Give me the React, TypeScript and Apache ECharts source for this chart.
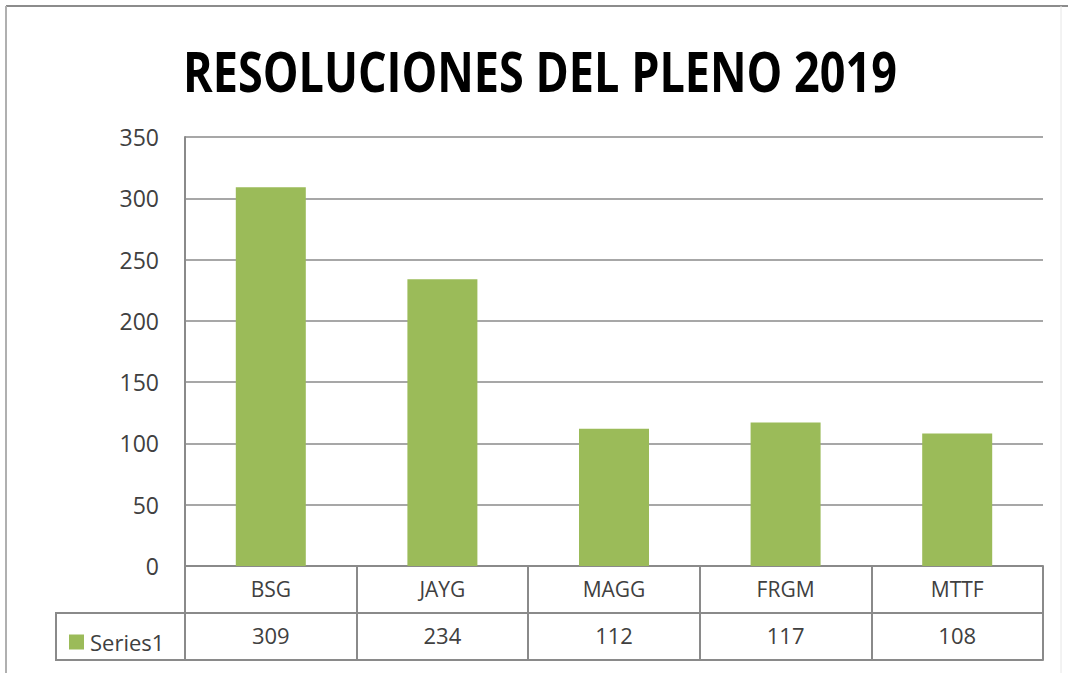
import React, { useEffect, useRef } from "react";
import * as echarts from "echarts";

const categories = ["BSG", "JAYG", "MAGG", "FRGM", "MTTF"];
const values = [309, 234, 112, 117, 108];
const seriesName = "Series1";
const titleText = "RESOLUCIONES DEL PLENO 2019";
const yMin = 0;
const yMax = 350;
const yInterval = 50;

const GRAY = "#8a8a8a";
const TEXT = "#404040";
const FONT = "'Open Sans', 'Noto Sans', sans-serif";

export default function App() {
  const ref = useRef<HTMLDivElement>(null);
  useEffect(() => {
    if (!ref.current) return;
    const chart = echarts.init(ref.current, undefined, { renderer: "svg" });
    const rowH = 47;
    const tick = { show: true, alignWithLabel: false, interval: 0, length: rowH, lineStyle: { color: GRAY, width: 2 } };
    chart.setOption({
      animation: false,
      backgroundColor: "#ffffff",
      grid: { left: 185, right: 25, top: 137, bottom: 107, containLabel: false },
      legend: {
        show: true,
        left: 64,
        top: 626,
        icon: "rect",
        itemWidth: 15,
        itemHeight: 15,
        itemGap: 4,
        data: [seriesName],
        textStyle: { fontSize: 22, color: TEXT, fontFamily: FONT, padding: [0, 0, 0, 1] },
      },
      yAxis: {
        type: "value",
        min: yMin,
        max: yMax,
        interval: yInterval,
        axisLine: { show: true, lineStyle: { color: GRAY, width: 2 } },
        axisTick: { show: false },
        splitLine: { show: true, lineStyle: { color: GRAY, width: 1.5 } },
        axisLabel: { fontSize: 23, color: TEXT, fontFamily: FONT, margin: 26 },
      },
      xAxis: [
        {
          type: "category",
          data: categories,
          position: "bottom",
          axisLine: { show: true, lineStyle: { color: GRAY, width: 2 } },
          axisTick: tick,
          axisLabel: { fontSize: 21, color: TEXT, fontFamily: FONT, margin: 12, interval: 0 },
        },
        {
          type: "category",
          data: values.map((v) => String(v)),
          position: "bottom",
          offset: rowH,
          axisLine: { show: true, lineStyle: { color: GRAY, width: 2 } },
          axisTick: tick,
          axisLabel: { fontSize: 22, color: TEXT, fontFamily: FONT, margin: 11, interval: 0 },
        },
        {
          type: "category",
          data: categories,
          position: "bottom",
          offset: rowH * 2,
          axisLine: { show: true, lineStyle: { color: GRAY, width: 2 } },
          axisTick: { show: false },
          axisLabel: { show: false },
        },
      ],
      series: [
        {
          name: seriesName,
          type: "bar",
          xAxisIndex: 0,
          data: values,
          barWidth: 70,
          itemStyle: { color: "#9BBB59" },
        },
      ],
      graphic: [
        {
          type: "line",
          shape: { x1: 6, y1: 6, x2: 1068, y2: 6 },
          style: { stroke: "#8c8c8c", lineWidth: 2 },
        },
        {
          type: "line",
          shape: { x1: 6, y1: 6, x2: 6, y2: 673 },
          style: { stroke: "#b0b0b0", lineWidth: 2 },
        },
        {
          type: "line",
          shape: { x1: 1061, y1: 6, x2: 1061, y2: 673 },
          style: { stroke: "#e6e6e6", lineWidth: 1 },
        },
        {
          type: "rect",
          shape: { x: 56, y: 613, width: 129, height: rowH },
          style: { fill: "none", stroke: GRAY, lineWidth: 2 },
        },
        {
          type: "text",
          x: 540,
          y: 71,
          scaleY: 1.22,
          style: {
            text: titleText,
            font: "bold 45px 'Open Sans', 'Noto Sans', sans-serif",
            fill: "#000000",
            align: "center",
            verticalAlign: "middle",
          },
        },
      ],
    });
    return () => chart.dispose();
  }, []);
  return (
    <div
      ref={ref}
      style={{ position: "absolute", left: 0, top: 0, width: 1068, height: 673 }}
    />
  );
}
